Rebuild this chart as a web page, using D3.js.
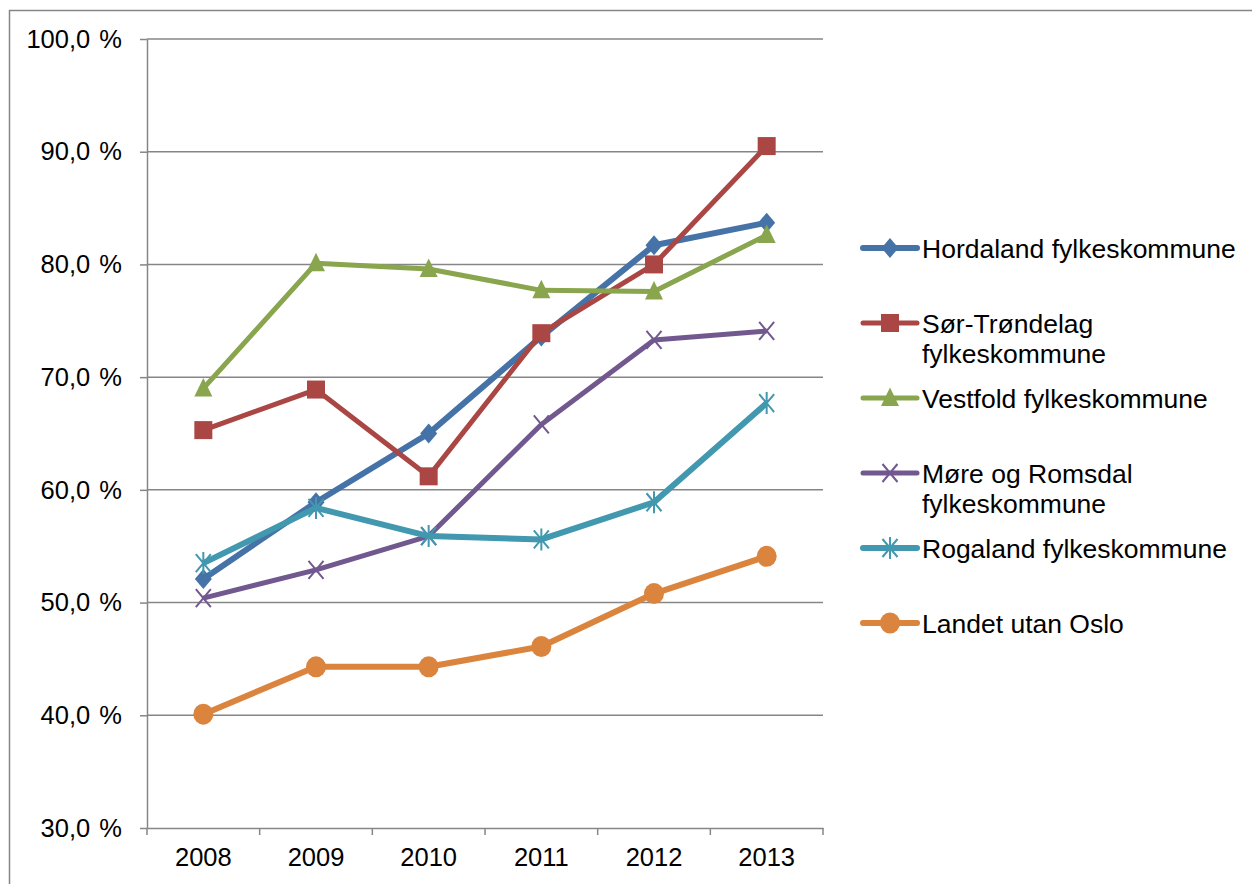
<!DOCTYPE html>
<html>
<head>
<meta charset="UTF-8">
<title>Andel</title>
<script src="https://d3js.org/d3.v7.min.js"></script>
<style>
    body {margin: 0; background: white;}
    text {font-family: "Liberation Sans", Arial, sans-serif; fill: black;}
    .grid line {stroke: #868686; stroke-width: 1.5;}
    .axis path, .axis line {stroke: #868686; stroke-width: 1.5;}
</style>
</head>
<body>
<div id="chart"></div>
<script>
    var years = ["2008", "2009", "2010", "2011", "2012", "2013"];
    var yTicks = [30, 40, 50, 60, 70, 80, 90, 100];

    var hordaland = [52.1, 58.9, 65.0, 73.6, 81.7, 83.7];
    var sorTrondelag = [65.3, 68.9, 61.2, 73.9, 80.0, 90.5];
    var vestfold = [69.0, 80.1, 79.6, 77.7, 77.6, 82.6];
    var moreRomsdal = [50.4, 52.9, 55.9, 65.8, 73.3, 74.1];
    var rogaland = [53.5, 58.4, 55.9, 55.6, 58.9, 67.7];
    var landet = [40.1, 44.3, 44.3, 46.1, 50.8, 54.1];

    var seriesNames = [["Hordaland fylkeskommune"], ["Sør-Trøndelag", "fylkeskommune"],
        ["Vestfold fylkeskommune"], ["Møre og Romsdal", "fylkeskommune"],
        ["Rogaland fylkeskommune"], ["Landet utan Oslo"]];

    var series = [
        {name: seriesNames[0], values: hordaland, color: "#4572A7", marker: "diamond", width: 6},
        {name: seriesNames[1], values: sorTrondelag, color: "#AA4643", marker: "square", width: 5},
        {name: seriesNames[2], values: vestfold, color: "#89A54E", marker: "triangle", width: 5},
        {name: seriesNames[3], values: moreRomsdal, color: "#71588F", marker: "x", width: 5},
        {name: seriesNames[4], values: rogaland, color: "#4198AF", marker: "star", width: 6},
        {name: seriesNames[5], values: landet, color: "#DB843D", marker: "circle", width: 6}
    ];

    var W = 1252, H = 884;
    var plot = {left: 147, right: 823, top: 39, bottom: 828};

    var svg = d3.select("#chart").append("svg")
        .attr("width", W)
        .attr("height", H);

    // outer frame
    svg.append("rect")
        .attr("x", 9.5).attr("y", 10.5)
        .attr("width", W + 20).attr("height", H + 20)
        .attr("fill", "white")
        .attr("stroke", "#868686").attr("stroke-width", 1.5);

    var x = d3.scaleBand()
        .domain(years)
        .range([plot.left, plot.right]);

    var y = d3.scaleLinear()
        .domain([30, 100])
        .range([plot.bottom, plot.top]);

    // gridlines
    svg.append("g").attr("class", "grid")
        .selectAll("line")
        .data(yTicks.slice(1))
        .enter().append("line")
        .attr("x1", plot.left).attr("x2", plot.right)
        .attr("y1", function(d) {return y(d)})
        .attr("y2", function(d) {return y(d)});

    // y axis
    var yAxis = d3.axisLeft(y)
        .tickValues(yTicks)
        .tickSizeInner(7).tickSizeOuter(0)
        .tickPadding(18)
        .tickFormat(function(d) {return d.toFixed(1).replace(".", ",") + " %"});

    var gy = svg.append("g").attr("class", "axis")
        .attr("transform", "translate(" + plot.left + ",0)")
        .call(yAxis);
    gy.selectAll("text").style("font-size", "25.5px").style("word-spacing", "2px");

    // x axis
    var gx = svg.append("g").attr("class", "axis")
        .attr("transform", "translate(0," + plot.bottom + ")")
        .call(d3.axisBottom(x).tickSize(0).tickPadding(20));
    gx.selectAll("text").style("font-size", "25.5px");

    // category boundary ticks
    var bounds = years.map(function(d) {return x(d)}).concat([plot.right]);
    gx.selectAll(".bound")
        .data(bounds)
        .enter().append("line")
        .attr("class", "bound")
        .attr("x1", function(d) {return d}).attr("x2", function(d) {return d})
        .attr("y1", 0).attr("y2", 7);

    var cx = function(i) {return x(years[i]) + x.bandwidth() / 2};

    var line = d3.line()
        .x(function(d, i) {return cx(i)})
        .y(function(d) {return y(d)});

    function drawMarker(g, type, color) {
        if (type == "diamond") {
            g.append("path").attr("d", "M0,-10L8.5,0L0,10L-8.5,0Z").attr("fill", color);
        } else if (type == "square") {
            g.append("rect").attr("x", -9).attr("y", -9).attr("width", 18).attr("height", 18).attr("fill", color);
        } else if (type == "triangle") {
            g.append("path").attr("d", "M0,-10.5L9,8L-9,8Z").attr("fill", color);
        } else if (type == "x") {
            g.append("path").attr("d", "M-7.5,-9L7.5,9M7.5,-9L-7.5,9")
                .attr("stroke", color).attr("stroke-width", 2).attr("fill", "none");
        } else if (type == "star") {
            g.append("path").attr("d", "M-7.5,-9L7.5,9M7.5,-9L-7.5,9M0,-11L0,11")
                .attr("stroke", color).attr("stroke-width", 2).attr("fill", "none");
        } else if (type == "circle") {
            g.append("ellipse").attr("rx", 10).attr("ry", 10.5).attr("fill", color);
        }
    }

    series.forEach(function(s) {
        svg.append("path")
            .datum(s.values)
            .attr("fill", "none")
            .attr("stroke", s.color)
            .attr("stroke-width", s.width)
            .attr("stroke-linejoin", "round")
            .attr("d", line);

        s.values.forEach(function(v, i) {
            var g = svg.append("g").attr("transform", "translate(" + cx(i) + "," + y(v) + ")");
            drawMarker(g, s.marker, s.color);
        });
    });

    // legend
    var legend = svg.append("g").attr("transform", "translate(863,248)");
    series.forEach(function(s, k) {
        var g = legend.append("g").attr("transform", "translate(0," + (k * 75) + ")");
        g.append("line")
            .attr("x1", 0).attr("x2", 54).attr("y1", 0).attr("y2", 0)
            .attr("stroke", s.color).attr("stroke-width", s.width)
            .attr("stroke-linecap", "round");
        var m = g.append("g").attr("transform", "translate(27,0)");
        drawMarker(m, s.marker, s.color);
        var t = g.append("text")
            .attr("x", 59).attr("y", 9.5)
            .style("font-size", "26.5px");
        s.name.forEach(function(l, j) {
            t.append("tspan").attr("x", 59).attr("dy", j == 0 ? 0 : 30).text(l);
        });
    });
</script>
</body>
</html>
